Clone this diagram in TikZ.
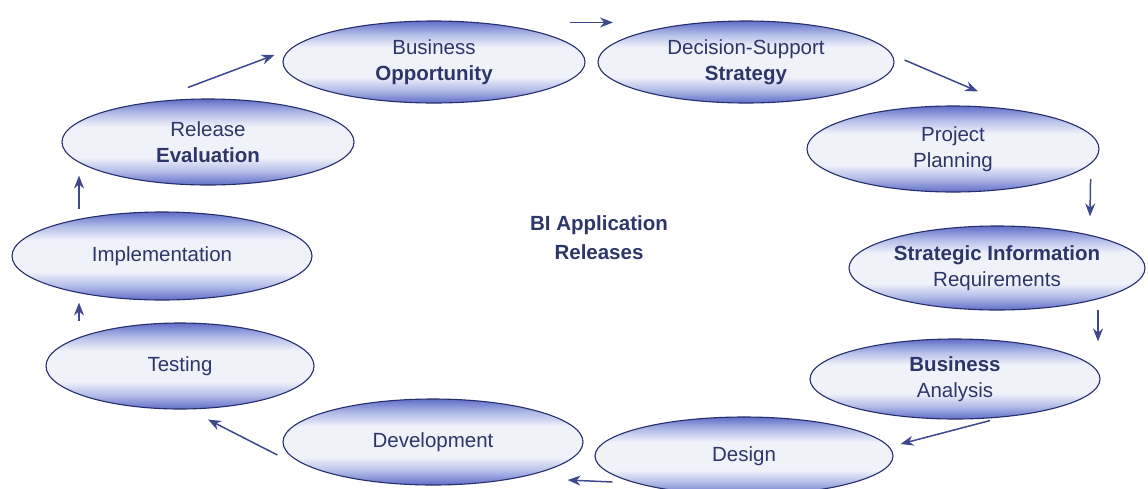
\documentclass[tikz,border=0pt]{standalone}
\usepackage{fontspec}
\setmainfont{Liberation Sans}
\usetikzlibrary{shapes.geometric, arrows.meta}

\definecolor{bandblue}{RGB}{96,110,200}
\definecolor{bandlight}{RGB}{178,188,232}
\definecolor{bandwhite}{RGB}{240,242,250}
\definecolor{rimblue}{RGB}{38,46,108}
\definecolor{inkblue}{RGB}{44,54,104}
\definecolor{arrowblue}{RGB}{62,72,140}

% blue rim at top and bottom, white band in the middle
\pgfdeclareverticalshading{phaseband}{100bp}{
  color(0bp)=(bandblue); color(25bp)=(bandblue); color(33bp)=(bandlight);
  color(41bp)=(bandwhite); color(59bp)=(bandwhite); color(67bp)=(bandlight);
  color(75bp)=(bandblue); color(100bp)=(bandblue)}

\begin{document}
\begin{tikzpicture}[
    x=1pt, y=-1pt,
    >={Stealth[length=13pt, width=10pt]},
    % Styles
    phase/.style={ % one step of the release cycle
        ellipse,
        draw=rimblue,
        line width=1.1pt,
        shade,
        shading=phaseband,
        minimum width=300pt,
        minimum height=84pt,
        inner sep=0pt,
        align=center,
        text=inkblue,
        font=\fontsize{20.5}{26}\selectfont
    },
    hub/.style={ % label in the middle of the cycle
        align=center,
        text=inkblue,
        font=\fontsize{20.5}{29}\selectfont\bfseries
    },
    arrow/.style={
        ->,
        draw=arrowblue,
        line width=1.5pt
    }
]
    \useasboundingbox (0,0) rectangle (1148,488);

    % Steps, clockwise from the top
    \node[phase, minimum width=302pt, minimum height=82pt] (opp) at (434,62) {Business\\\textbf{Opportunity}};
    \node[phase, minimum width=296pt, minimum height=82pt] (strat) at (746,62) {Decision-Support\\\textbf{Strategy}};
    \node[phase, minimum width=292pt, minimum height=86pt] (plan) at (953,149) {Project\\Planning};
    \node[phase, minimum width=296pt] (req) at (997,268) {\textbf{Strategic Information}\\Requirements};
    \node[phase, minimum width=290pt, minimum height=80pt] (anl) at (955,379) {\textbf{Business}\\Analysis};
    \node[phase, minimum width=298pt, minimum height=78pt] (des) at (744,456) {Design};
    \node[phase, minimum height=86pt] (dev) at (433,442) {Development};
    \node[phase, minimum width=268pt, minimum height=86pt] (test) at (180,366) {Testing};
    \node[phase, minimum height=88pt] (impl) at (162,256) {Implementation};
    \node[phase, minimum width=292pt, minimum height=86pt] (eval) at (208,142) {Release\\\textbf{Evaluation}};

    % Centre label
    \node[hub] (bi) at (599,238) {BI Application\\Releases};

    % Arrows between the steps
    \draw[arrow] ([xshift=-20pt, yshift=11pt]eval.north) -- ([xshift=-8pt, yshift=7pt]opp.west);
    \draw[arrow] ([xshift=136pt, yshift=-2pt]opp.north) -- ([xshift=-133pt, yshift=-2pt]strat.north);
    \draw[arrow] ([xshift=10pt, yshift=2pt]strat.east) -- ([xshift=25pt, yshift=14pt]plan.north);
    \draw[arrow] ([xshift=-9pt, yshift=-30pt]plan.east) -- ([xshift=93pt, yshift=9pt]req.north);
    \draw[arrow] ([xshift=101pt, yshift=1pt]req.south) -- ([xshift=143pt, yshift=-3pt]anl.north);
    \draw[arrow] ([xshift=35pt, yshift=-1pt]anl.south) -- ([xshift=7pt, yshift=12pt]des.east);
    \draw[arrow] ([xshift=18pt, yshift=-26pt]des.west) -- ([xshift=-16pt, yshift=-38pt]dev.east);
    \draw[arrow] ([xshift=-5pt, yshift=-13pt]dev.west) -- ([xshift=28pt, yshift=-10pt]test.south);
    \draw[arrow] ([xshift=-101pt, yshift=1pt]test.north) -- ([xshift=-83pt, yshift=-2pt]impl.south);
    \draw[arrow] ([xshift=-83pt, yshift=2pt]impl.north) -- ([xshift=-129pt, yshift=10pt]eval.south);
\end{tikzpicture}
\end{document}
